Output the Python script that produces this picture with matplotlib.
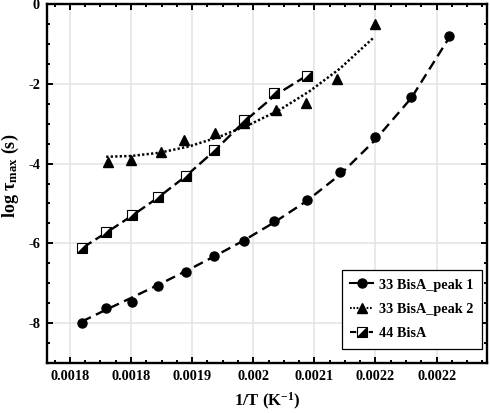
import matplotlib
matplotlib.use("Agg")
import matplotlib.pyplot as plt
from matplotlib.lines import Line2D
from matplotlib.legend_handler import HandlerTuple
from matplotlib.ticker import FixedLocator, FixedFormatter, MultipleLocator

# ---------------- data ----------------
x_peak1 = [0.0017757, 0.0018078, 0.0018411, 0.0018756, 0.0019115, 0.0019487,
           0.0019875, 0.0020278, 0.0020698, 0.0021135, 0.0021591, 0.0022068, 0.0022566]
y_peak1 = [-7.99, -7.63, -7.48, -7.06, -6.73, -6.33, -5.93, -5.44, -4.91, -4.20, -3.34, -2.32, -0.80]

x_peak1_fit = x_peak1
y_peak1_fit = [-7.96, -7.66, -7.36, -7.04, -6.70, -6.33, -5.93, -5.47, -4.94, -4.28, -3.42, -2.36, -0.84]

x_peak2 = [0.0018101, 0.0018395, 0.0018791, 0.0019092, 0.0019498, 0.0019878,
           0.0020297, 0.0020696, 0.0021091, 0.0021593]
y_peak2 = [-3.95, -3.91, -3.72, -3.41, -3.23, -2.98, -2.66, -2.48, -1.89, -0.50]

x_peak2_fit = [0.0018075, 0.0018402, 0.0018768, 0.0019161, 0.0019554, 0.0019956,
               0.0020349, 0.0020742, 0.0021134, 0.0021566]
y_peak2_fit = [-3.83, -3.81, -3.73, -3.57, -3.33, -3.02, -2.65, -2.18, -1.62, -0.86]

x_44 = [0.0017757, 0.0018078, 0.0018411, 0.0018756, 0.0019115, 0.0019487,
        0.0019875, 0.0020278, 0.0020698]
y_44 = [-6.12, -5.72, -5.29, -4.83, -4.30, -3.66, -2.92, -2.24, -1.80]
x_44_fit = x_44
y_44_fit = [-6.12, -5.73, -5.31, -4.85, -4.32, -3.69, -2.96, -2.30, -1.80]

x_ticks = [0.00176, 0.00184, 0.00192, 0.00200, 0.00208, 0.00216, 0.00224]
x_ticklabels = ["0.0018", "0.0018", "0.0019", "0.002", "0.0021", "0.0022", "0.0022"]
y_ticks = [0, -2, -4, -6, -8]
y_ticklabels = ["0", "-2", "-4", "-6", "-8"]

labels = ["33 BisA_peak 1", "33 BisA_peak 2", "44 BisA"]

# ---------------- style ----------------
plt.rcParams["font.family"] = ["Liberation Serif", "DejaVu Serif"]
plt.rcParams["font.weight"] = "bold"
plt.rcParams["mathtext.fontset"] = "custom"
plt.rcParams["mathtext.rm"] = "Liberation Serif:bold"
plt.rcParams["mathtext.it"] = "Liberation Serif:italic:bold"
plt.rcParams["mathtext.bf"] = "Liberation Serif:bold"

fig = plt.figure(figsize=(4.9, 4.13), dpi=100)
ax = fig.add_axes([47 / 490, 50 / 413, 440 / 490, 359 / 413])

ms = 6.5
lw = 1.7

# peak 1
ax.plot(x_peak1_fit, y_peak1_fit, color="black", lw=lw, linestyle=(0, (4.2, 2.4)), zorder=3)
ax.plot(x_peak1, y_peak1, linestyle="none", marker="o", ms=ms, color="black", zorder=4)

# peak 2
ax.plot(x_peak2_fit, y_peak2_fit, color="black", lw=1.8, linestyle=(0, (0.9, 0.9)), zorder=3)
ax.plot(x_peak2, y_peak2, linestyle="none", marker="^", ms=7, color="black", zorder=4)

# 44 BisA
tri = [(-1, -1), (1, -1), (1, 1)]
ax.plot(x_44_fit, y_44_fit, color="black", lw=lw, linestyle=(0, (4.8, 2.0)), zorder=3)
ax.plot(x_44, y_44, linestyle="none", marker="s", ms=ms, mfc="white", mec="black", mew=0.8, zorder=4)
ax.plot(x_44, y_44, linestyle="none", marker=tri, ms=ms, mfc="black", mec="black", mew=0.3, zorder=5)

# axes
ax.set_xlim(0.00173, 0.002306)
ax.set_ylim(-9, 0)
ax.xaxis.set_major_locator(FixedLocator(x_ticks))
ax.xaxis.set_major_formatter(FixedFormatter(x_ticklabels))
ax.xaxis.set_minor_locator(MultipleLocator(0.00002))
ax.yaxis.set_major_locator(FixedLocator(y_ticks))
ax.yaxis.set_major_formatter(FixedFormatter(y_ticklabels))
ax.yaxis.set_minor_locator(MultipleLocator(0.5))

ax.grid(True, which="major", color="#e3e3e3", lw=1.1, zorder=0)
ax.set_axisbelow(True)
for s in ax.spines.values():
    s.set_linewidth(1.7)
ax.tick_params(which="both", direction="in", top=True, right=True, width=1.4, labelsize=10.3)
ax.tick_params(which="major", length=4.2, pad=5)
ax.tick_params(which="minor", length=2.2)
for t in ax.get_xticklabels() + ax.get_yticklabels():
    t.set_fontweight("bold")

ax.set_xlabel(r"1/T (K$^{\mathrm{-1}}$)", fontsize=12, fontweight="bold", labelpad=6)
ax.set_ylabel(r"log τ$_{\mathrm{max}}$ (s)", fontsize=13, fontweight="bold")
ax.yaxis.set_label_coords(-0.058, 0.52)

# legend
h1 = Line2D([], [], color="black", lw=1.5, marker="o", ms=ms)
h2 = Line2D([], [], color="black", lw=1.5, linestyle=(0, (0.8, 0.8)), marker="^", ms=7)
h3a = Line2D([], [], color="black", lw=1.5, linestyle=(0, (3, 1.5)), marker="s", ms=ms,
             mfc="white", mec="black", mew=0.8)
h3b = Line2D([], [], color="black", lw=0, marker=tri, ms=ms, mfc="black", mec="black", mew=0.3)
leg = ax.legend([h1, h2, (h3a, h3b)], labels,
                handler_map={tuple: HandlerTuple(ndivide=1, pad=0)},
                loc="lower right", bbox_to_anchor=(482 / 490, 64 / 413),
                bbox_transform=fig.transFigure,
                prop={"weight": "bold", "size": 10.3},
                frameon=True, fancybox=False, edgecolor="black", framealpha=1,
                handlelength=1.6, handletextpad=0.4, labelspacing=0.8,
                borderpad=0.6, borderaxespad=0)
leg.get_frame().set_linewidth(0.9)

fig.savefig("out.png", dpi=100)
